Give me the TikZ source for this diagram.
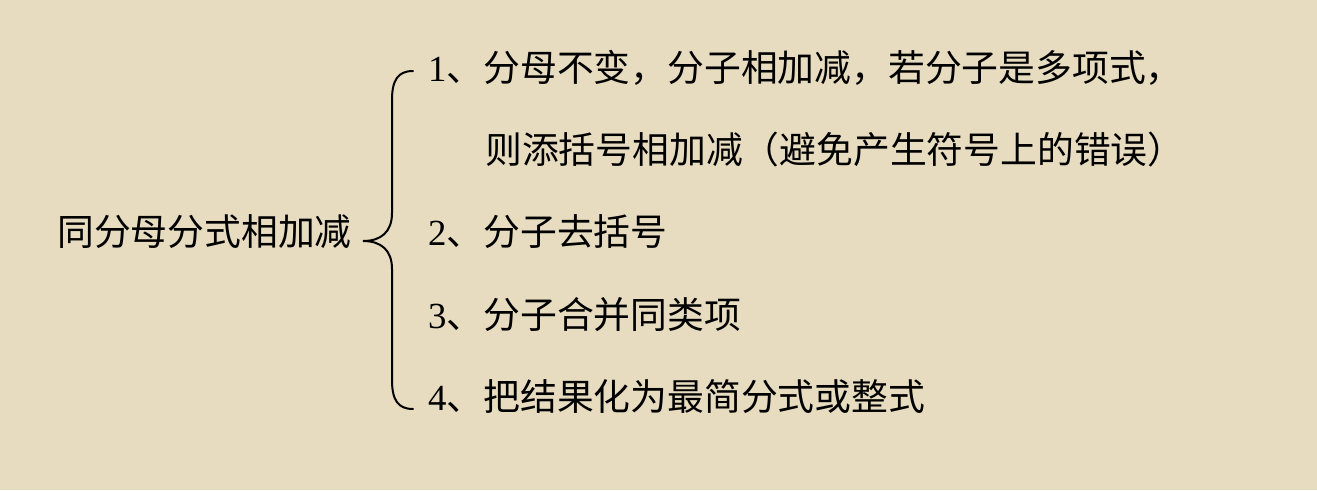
\documentclass[tikz,border=0pt]{standalone}
\usepackage{fontspec}
\setmainfont{Liberation Serif}
\newfontfamily\cjk{Noto Sans CJK SC}
\usepackage{xcolor}
\usepackage{tikz}
\usetikzlibrary{positioning}

\definecolor{paper}{RGB}{231,220,192}

\begin{document}
\begin{tikzpicture}[
    x = 1pt, y = -1pt,
    every node/.style = {
        inner sep=0pt, anchor=base west, text=black,
        font=\fontsize{36.8pt}{36.8pt}\selectfont
    },
    brace/.style = {line width=2pt, line cap=round}
  ]
    \useasboundingbox[fill=paper] (0,0) rectangle (1317,490);

    \node (title) at (57,245) {\cjk 同分母分式相加减};  % 标题

    \node (s1) at (428,81) {1\cjk 、分母不变，分子相加减，若分子是多项式，};  % 第1步
    \node (s1b) at (485,163) {\cjk 则添括号相加减（避免产生符号上的错误）};  % 第1步续行
    \node (s2) at (428,245) {2\cjk 、分子去括号};  % 第2步
    \node (s3) at (428,328) {3\cjk 、分子合并同类项};  % 第3步
    \node (s4) at (428,410) {4\cjk 、把结果化为最简分式或整式};  % 第4步

    % 大括号
    \coordinate (tip) at (363,241);
    \coordinate (top) at (413,71);
    \coordinate (bot) at (413,409);
    \draw[brace] (top) .. controls (398,71) and (392,80) .. (392,100)
        -- (392,213) .. controls (392,232) and (381,241) .. (tip)
        .. controls (381,241) and (392,250) .. (392,269)
        -- (392,380) .. controls (392,400) and (398,409) .. (bot);
\end{tikzpicture}
\end{document}
